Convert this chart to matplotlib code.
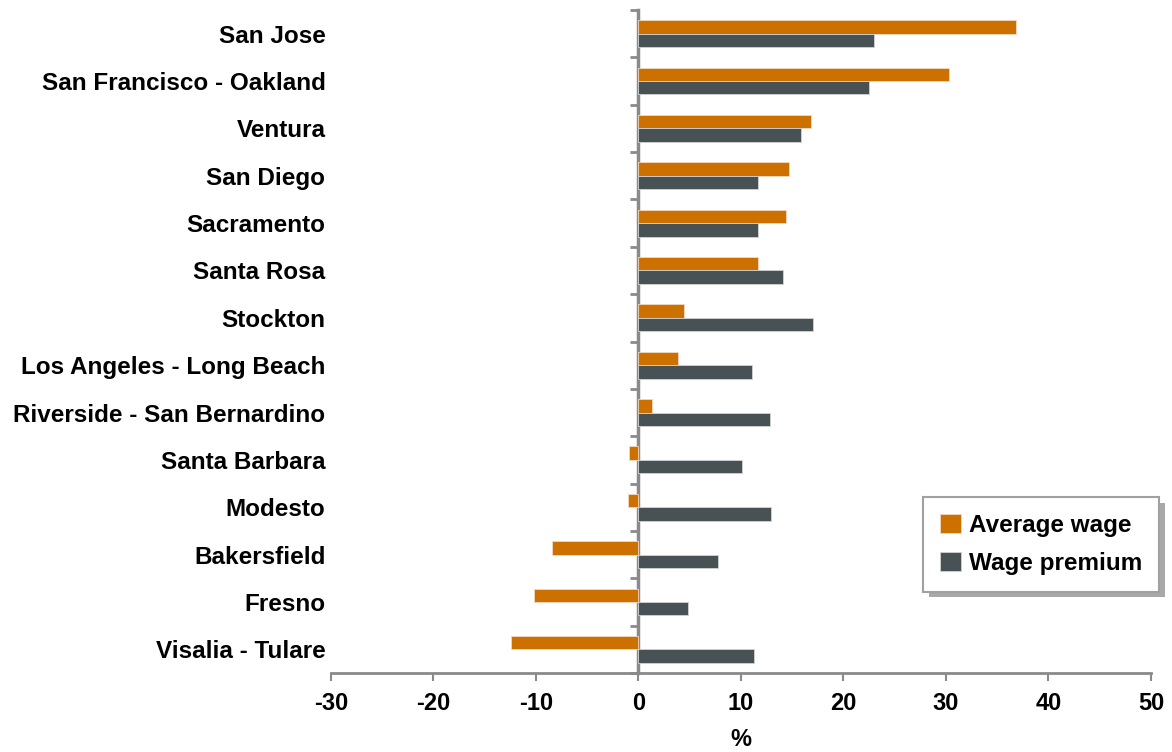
import matplotlib
matplotlib.use("Agg")
import matplotlib.pyplot as plt
import matplotlib.patheffects as pe
import numpy as np

categories = ["San Jose", "San Francisco - Oakland", "Ventura", "San Diego",
              "Sacramento", "Santa Rosa", "Stockton", "Los Angeles - Long Beach",
              "Riverside - San Bernardino", "Santa Barbara", "Modesto",
              "Bakersfield", "Fresno", "Visalia - Tulare"]
average_wage = [36.8, 30.3, 16.8, 14.7, 14.4, 11.7, 4.4, 3.9, 1.35, -0.9, -1.05,
                -8.4, -10.2, -12.4]
wage_premium = [23.0, 22.5, 15.9, 11.7, 11.7, 14.1, 17.0, 11.1, 12.8, 10.1, 12.9,
                7.8, 4.8, 11.3]
x_ticks = [-30, -20, -10, 0, 10, 20, 30, 40, 50]

plt.rcParams['font.family'] = ['Liberation Sans', 'DejaVu Sans']
plt.rcParams['font.weight'] = 'bold'

ORANGE = "#CC7000"
GREY = "#485154"
AXIS = "#8a8a8a"

fig = plt.figure(figsize=(11.72, 7.52), dpi=100)
ax = fig.add_axes([331/1172, 1 - 673/752, 820/1172, 663/752])

y = np.arange(len(categories))
h = 0.284
ax.barh(y - h/2, average_wage, height=h, color=ORANGE, edgecolor="#f2d9bf",
        linewidth=0.6, label="Average wage")
ax.barh(y + h/2, wage_premium, height=h, color=GREY, edgecolor="#d0d4d5",
        linewidth=0.6, label="Wage premium")

xmin, xmax = -30, 50
ax.set_xlim(xmin, xmax)
ax.set_ylim(len(categories) - 0.5, -0.5)
ax.set_xticks(x_ticks)
ax.set_xticklabels([str(t) for t in x_ticks], fontsize=17, fontweight='bold')
ax.tick_params(axis='x', length=6, width=1.5, color=AXIS, pad=8)
ax.set_yticks(y)
ax.set_yticklabels(categories, fontsize=17.5, fontweight='bold')
ax.tick_params(axis='y', length=0, pad=4)

for s in ['top', 'right', 'left']:
    ax.spines[s].set_visible(False)
ax.spines['bottom'].set_color(AXIS)
ax.spines['bottom'].set_linewidth(2)

# vertical axis at zero with category boundary ticks
loc0 = (0 - xmin) / (xmax - xmin)
sec = ax.secondary_yaxis(loc0)
sec.set_yticks(np.arange(-0.5, len(categories), 1.0))
sec.set_yticklabels([])
sec.tick_params(axis='y', length=6, width=2, color=AXIS, direction='out')
sec.spines['left'].set_color(AXIS)
sec.spines['left'].set_linewidth(2.5)

ax.set_xlabel("%", fontsize=17, fontweight='bold', labelpad=9)

leg = ax.legend(loc='upper left', bbox_to_anchor=(923/1172, 1 - 497/752),
                bbox_transform=fig.transFigure, fontsize=17.5, frameon=True,
                fancybox=False, edgecolor="#a0a0a0", framealpha=1.0,
                handlelength=0.85, handleheight=0.85, handletextpad=0.35,
                borderpad=0.7, labelspacing=0.6, borderaxespad=0)
for t in leg.get_texts():
    t.set_fontweight('bold')
leg.get_frame().set_linewidth(1.5)
leg.get_frame().set_path_effects([
    pe.SimplePatchShadow(offset=(4, -4), shadow_rgbFace="#a8a8a8", alpha=1.0),
    pe.Normal()])

fig.savefig("out.png", dpi=100)
